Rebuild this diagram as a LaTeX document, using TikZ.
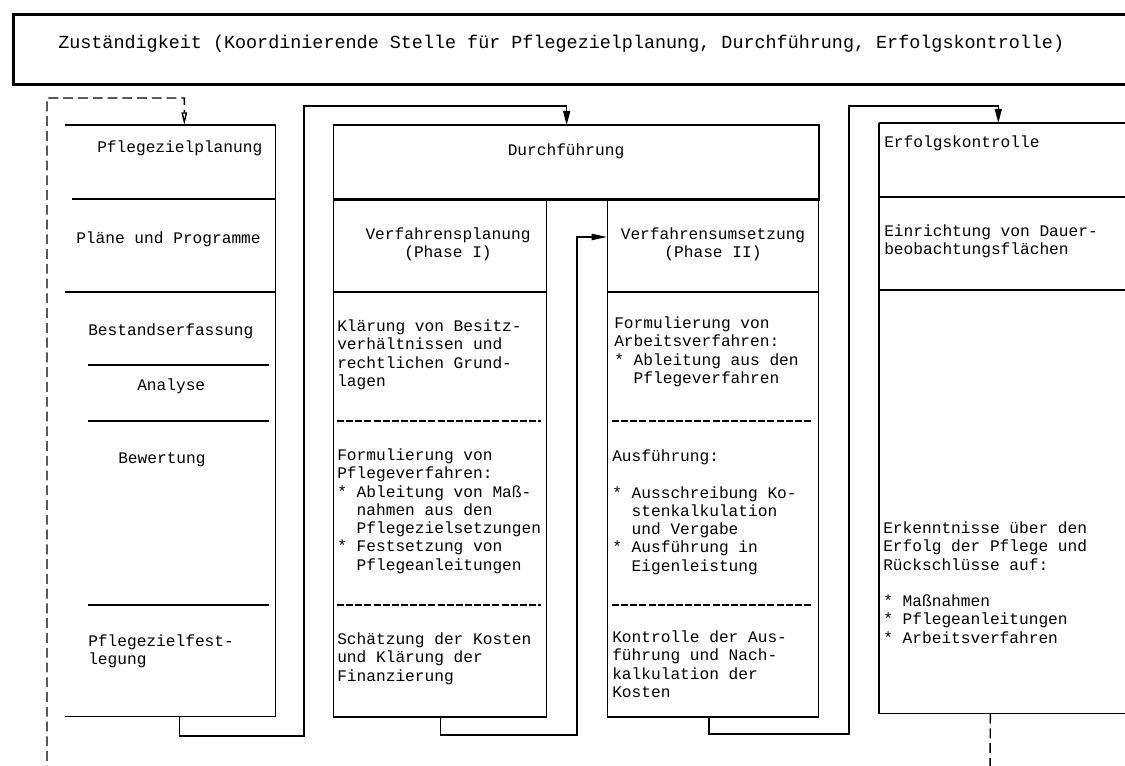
\documentclass[tikz,border=0pt]{standalone}
\usepackage{fontspec}
\setmainfont{Liberation Mono}
\usepackage{tikz}
\usetikzlibrary{shapes,arrows,arrows.meta,positioning,fit,calc}

\newcommand{\ind}{\phantom{*}\ }
\newcommand{\bul}{*\ }

\tikzset{
  col/.style={rectangle, anchor=north west, inner sep=0pt},
  frame/.style={line width=1pt},
  hdr/.style={line width=2pt},
  sep/.style={line width=.8pt},
  dsep/.style={line width=.8pt, dash pattern=on 5pt off 1.5pt},
  conn/.style={line width=1pt},
  fb/.style={line width=1pt, dash pattern=on 7pt off 3.5pt},
  txt/.style={anchor=north west, inner sep=0pt, yshift=11pt, align=left,
    font=\fontsize{11.5pt}{13pt}\selectfont, execute at begin node={\rule{0pt}{11pt}}},
  ctxt/.style={txt, anchor=north, align=center}
}

\begin{document}
\begin{tikzpicture}[x=0.025cm, y=-0.025cm]
    \useasboundingbox (0,0) rectangle (1125,766);
    \clip (0,0) rectangle (1125,766);

    % Zustaendigkeit
    \node (zust) [col, draw, line width=2.2pt, minimum width=28.5cm, minimum height=1.75cm] at (12,13) {};
    \node (zusttxt) [txt, font=\fontsize{13.1pt}{14pt}\selectfont] at (58,48) {Zuständigkeit (Koordinierende Stelle für Pflegezielplanung, Durchführung, Erfolgskontrolle)};

    % columns
    \node (planung) [col, minimum width=5.25cm, minimum height=14.775cm] at (65,125) {};
    \node (durch) [col, draw, frame, minimum width=12.125cm, minimum height=1.825cm] at (333,125) {};
    \node (phase1) [col, draw, frame, minimum width=5.325cm, minimum height=12.95cm] at (333,198) {};
    \node (phase2) [col, draw, frame, minimum width=5.275cm, minimum height=12.95cm] at (607,198) {};
    \node (erfolg) [col, minimum width=5.55cm, minimum height=14.75cm] at (879,123) {};

    % frames and separators
    \draw[hdr] (planung.north west) -- (planung.north east);
    \draw[frame] (planung.north east) -- (planung.south east) -- (planung.south west);
    \draw[hdr] (72,199) -- (275,199);
    \draw[sep] (65,292) -- (275,292);
    \foreach \y in {365,421,605} \draw[sep] (88,\y) -- (269,\y);

    \draw[hdr] (durch.north west) -- (durch.north east);
    \draw[hdr] (durch.south west) -- (durch.south east);
    \draw[sep] (333,292) -- (546,292);
    \draw[sep] (607,292) -- (818,292);
    \foreach \y in {421,605} {
      \draw[dsep] (337,\y) -- (541,\y);
      \draw[dsep] (612,\y) -- (813,\y);
    }

    \draw[hdr] (erfolg.north west) -- ++(260,0);
    \draw[hdr] (879,197) -- ++(260,0);
    \draw[sep] (879,290) -- ++(260,0);
    \draw[frame] (erfolg.north west) -- (erfolg.south west) -- ++(260,0);

    % texts
    \node (t-plan) [txt] at (97,152) {Pflegezielplanung};
    \node (t-plaene) [txt] at (76,243) {Pläne und Programme};
    \node (t-bestand) [txt] at (88,335) {Bestandserfassung};
    \node (t-analyse) [txt] at (137,390) {Analyse};
    \node (t-bewert) [txt] at (118,463) {Bewertung};
    \node (t-fest) [txt] at (88,650) {Pflegezielfest-\\legung};

    \node (t-durch) [ctxt] at (566,155) {Durchführung};
    \node (t-vplan) [ctxt] at (448,243) {Verfahrensplanung\\(Phase I)};
    \node (t-klaer) [txt] at (337,335) {Klärung von Besitz-\\verhältnissen und\\rechtlichen Grund-\\lagen};
    \node (t-pverf) [txt] at (337,464) {Formulierung von\\Pflegeverfahren:\\\bul Ableitung von Maß-\\\ind nahmen aus den\\\ind Pflegezielsetzungen\\\bul Festsetzung von\\\ind Pflegeanleitungen};
    \node (t-kosten) [txt] at (337,648) {Schätzung der Kosten\\und Klärung der\\Finanzierung};

    \node (t-vums) [ctxt] at (713,243) {Verfahrensumsetzung\\(Phase II)};
    \node (t-averf) [txt] at (614,332) {Formulierung von\\Arbeitsverfahren:\\\bul Ableitung aus den\\\ind Pflegeverfahren};
    \node (t-ausf) [txt] at (612,465) {Ausführung:\\[13pt]\bul Ausschreibung Ko-\\\ind stenkalkulation\\\ind und Vergabe\\\bul Ausführung in\\\ind Eigenleistung};
    \node (t-kontr) [txt] at (612,646) {Kontrolle der Aus-\\führung und Nach-\\kalkulation der\\Kosten};

    \node (t-erfolg) [txt] at (884,147) {Erfolgskontrolle};
    \node (t-dauer) [txt] at (884,240) {Einrichtung von Dauer-\\beobachtungsflächen};
    \node (t-erk) [txt] at (883,537) {Erkenntnisse über den\\Erfolg der Pflege und\\Rückschlüsse auf:\\[13pt]\bul Maßnahmen\\\bul Pflegeanleitungen\\\bul Arbeitsverfahren};

    % connectors
    \coordinate (c1a) at (304,736);
    \coordinate (c1b) at (304,106);
    \draw[conn, -{Triangle[width=5pt,length=10pt]}] ([xshift=.225cm]planung.south) |- (c1a) -- (c1b) -| ([xshift=-.24cm]durch.north);

    \coordinate (c2a) at (577,735);
    \coordinate (c2b) at (577,237);
    \draw[conn, -{Triangle[width=4.5pt,length=11pt]}] (phase1.south) |- (c2a) -- (c2b) -- (c2b -| phase2.west);

    \coordinate (c3a) at (849,734);
    \coordinate (c3b) at (849,106);
    \draw[conn, -{Triangle[width=5pt,length=10pt]}] ([xshift=-.11cm]phase2.south) |- (c3a) -- (c3b) -| ([xshift=.2cm]erfolg.north);

    % feedback
    \coordinate (f1) at (990,790);
    \coordinate (f2) at (47,790);
    \coordinate (f3) at (47,98);
    \draw[fb, -{Triangle[open,width=4pt,length=9pt]}] (erfolg.south) -- (f1) -- (f2) -- (f3) -| ([xshift=.35cm]planung.north);
\end{tikzpicture}
\end{document}
